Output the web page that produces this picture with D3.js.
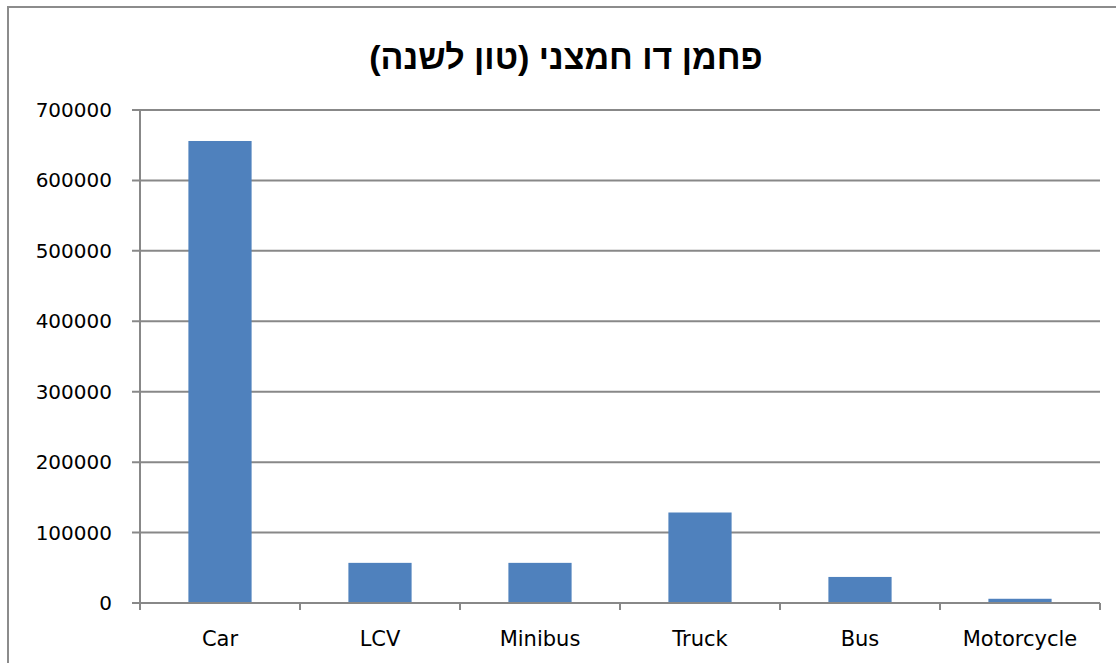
<!DOCTYPE html>
<html>
<head>
<meta charset="utf-8">
<script src="https://cdn.jsdelivr.net/npm/d3@7"></script>
<style>
  body { margin: 0; background: #fff; }
  svg text { font-family: "DejaVu Sans", sans-serif; fill: #000; }
</style>
</head>
<body>
<div class="container"></div>
<script>
const title = "פחמן דו חמצני (טון לשנה)";
const categories = ["Car", "LCV", "Minibus", "Truck", "Bus", "Motorcycle"];
const values = [656000, 57000, 57000, 128500, 37000, 6000];
const yTicks = [0, 100000, 200000, 300000, 400000, 500000, 600000, 700000];

const width = 1116, height = 663;
const plot = { left: 140, right: 1100, top: 110, bottom: 603 };

const svg = d3.select(".container")
  .append("svg")
  .attr("width", width)
  .attr("height", height);

// chart frame (only left and top edges show in the crop)
svg.append("rect")
  .attr("x", 8).attr("y", 7)
  .attr("width", 1300).attr("height", 800)
  .attr("fill", "none")
  .attr("stroke", "#8c8c8c")
  .attr("stroke-width", 2);

svg.append("text")
  .attr("x", 566)
  .attr("y", 69)
  .attr("text-anchor", "middle")
  .attr("direction", "rtl")
  .style("font-family", "'Liberation Sans', Arial, sans-serif")
  .style("font-weight", "bold")
  .style("font-size", "34px")
  .text(title);

const x = d3.scaleBand()
  .domain(categories)
  .range([plot.left, plot.right])
  .padding(0);

const y = d3.scaleLinear()
  .domain([0, 700000])
  .range([plot.bottom, plot.top]);

// gridlines + y ticks
svg.append("g")
  .selectAll("line")
  .data(yTicks)
  .join("line")
  .attr("x1", plot.left - 8)
  .attr("x2", plot.right)
  .attr("y1", d => y(d))
  .attr("y2", d => y(d))
  .attr("stroke", "#888")
  .attr("stroke-width", 2);

svg.append("g")
  .selectAll("text")
  .data(yTicks)
  .join("text")
  .attr("x", 112)
  .attr("y", d => y(d))
  .attr("text-anchor", "end")
  .attr("dominant-baseline", "central")
  .style("font-size", "20px")
  .text(d => d);

// y axis line
svg.append("line")
  .attr("x1", plot.left).attr("x2", plot.left)
  .attr("y1", plot.top).attr("y2", plot.bottom)
  .attr("stroke", "#888")
  .attr("stroke-width", 2);

// bars
const barW = x.bandwidth() * 0.395;
svg.append("g")
  .selectAll("rect")
  .data(categories)
  .join("rect")
  .attr("x", (d) => x(d) + (x.bandwidth() - barW) / 2)
  .attr("y", (d, i) => y(values[i]))
  .attr("width", barW)
  .attr("height", (d, i) => y(0) - y(values[i]))
  .attr("fill", "#4f81bd");

// x axis line and boundary ticks
svg.append("line")
  .attr("x1", plot.left).attr("x2", plot.right)
  .attr("y1", plot.bottom).attr("y2", plot.bottom)
  .attr("stroke", "#888")
  .attr("stroke-width", 2);

const bounds = categories.map(c => x(c)).concat([plot.right]);
svg.append("g")
  .selectAll("line")
  .data(bounds)
  .join("line")
  .attr("x1", d => d).attr("x2", d => d)
  .attr("y1", plot.bottom).attr("y2", plot.bottom + 7)
  .attr("stroke", "#888")
  .attr("stroke-width", 2);

svg.append("g")
  .selectAll("text")
  .data(categories)
  .join("text")
  .attr("x", d => x(d) + x.bandwidth() / 2)
  .attr("y", 646)
  .attr("text-anchor", "middle")
  .style("font-size", "21px")
  .text(d => d);
</script>
</body>
</html>
